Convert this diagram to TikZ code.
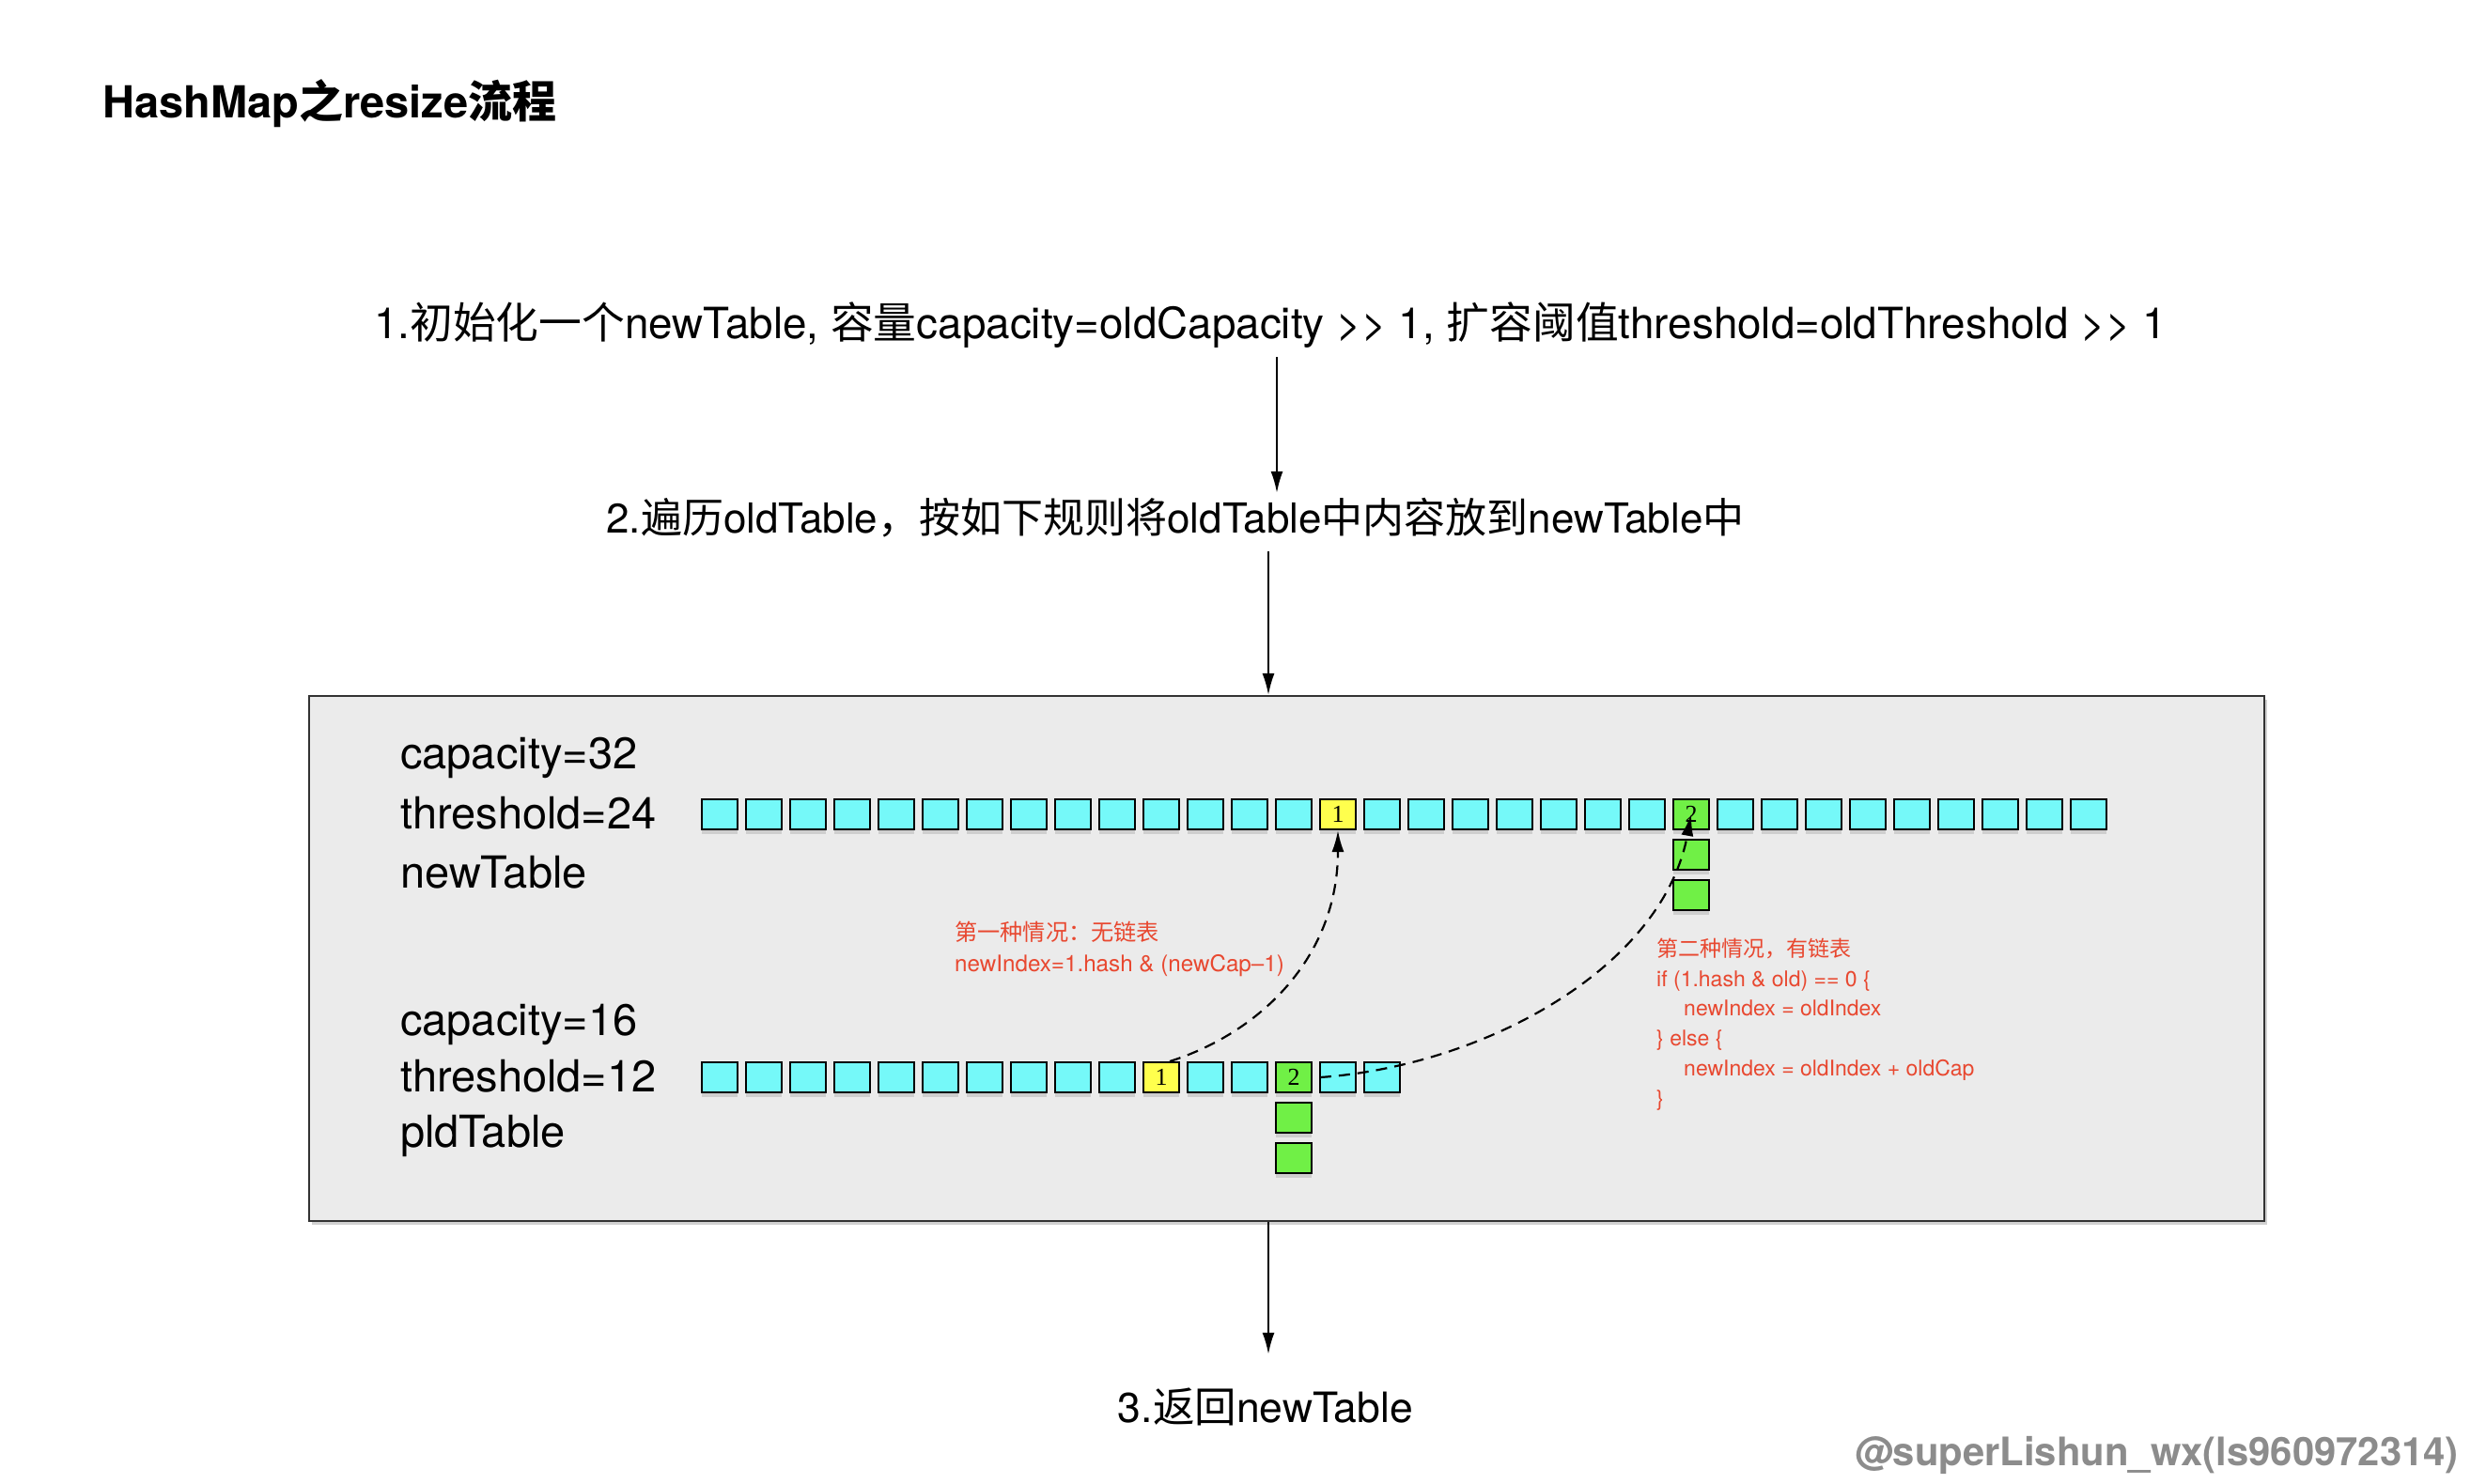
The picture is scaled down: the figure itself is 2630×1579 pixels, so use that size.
\documentclass[tikz,border=0pt]{standalone}
\usepackage{fontspec}
\setmainfont{TeX Gyre Heros}
\newfontfamily\cjk{Noto Sans CJK SC}
\newfontfamily\numf{Liberation Serif}
\usetikzlibrary{arrows.meta,shadows}
\definecolor{cellcyan}{RGB}{117,249,249}
\definecolor{cellyel}{RGB}{255,255,77}
\definecolor{cellgrn}{RGB}{112,240,70}
\definecolor{boxgray}{RGB}{235,235,235}
\definecolor{boxline}{RGB}{51,51,51}
\definecolor{redtxt}{RGB}{232,72,48}
\definecolor{wmgray}{RGB}{140,140,140}
\newcommand{\cj}[1]{{\cjk #1}}

\begin{document}
\begin{tikzpicture}[x=1pt,y=-1pt,
  steptext/.style={anchor=base, inner xsep=0pt, inner ysep=10pt, text height=32pt, text depth=10pt},
  lbl/.style={font=\fontsize{47}{55}\selectfont, anchor=base west, inner sep=0pt},
  note/.style={font=\fontsize{23}{28}\selectfont, text=redtxt, anchor=base west, inner sep=0pt},
  cell/.style={draw=black, line width=2pt, minimum width=38pt, minimum height=32pt, inner sep=0pt, fill=cellcyan,
    drop shadow={shadow xshift=0pt, shadow yshift=-5pt, opacity=0.12, fill=black},
    font=\numf\fontsize{26}{26}\selectfont},
  arr/.style={line width=2pt, -{Latex[length=23pt,width=13pt]}},
  darr/.style={line width=2.2pt, dash pattern=on 12pt off 8pt, -{Latex[length=23pt,width=13pt]}},
]
\fill[white] (0,0) rectangle (2630,1579);
\useasboundingbox (0,0) rectangle (2630,1579);

% title
\node[anchor=base west, inner sep=0pt, font=\bfseries\fontsize{47}{55}\selectfont] (title) at (109,125) {HashMap\cj{之}resize\cj{流程}};

% steps
\node[steptext, font=\fontsize{45.8}{52}\selectfont] (s1) at (1352,360) {1.\cj{初始化一个}newTable, \cj{容量}capacity=oldCapacity >{}> 1, \cj{扩容阈值}threshold=oldThreshold >{}> 1};
\node[steptext, font=\fontsize{44}{52}\selectfont] (s2) at (1251,567) {2.\cj{遍历}oldTable\cj{，按如下规则将}oldTable\cj{中内容放到}newTable\cj{中}};

% box
\node[draw=boxline, fill=boxgray, line width=2.5pt, minimum width=2081pt, minimum height=559pt, inner sep=0pt,
  drop shadow={shadow xshift=3pt, shadow yshift=-4pt, opacity=0.18, fill=black}] (box) at (1369.4,1020.7) {};

\node[steptext, font=\fontsize{44.5}{52}\selectfont, text height=62pt] (s3) at (1347,1514) {3.\cj{返回}newTable};

% labels
\node[lbl] (capN) at (426,818) {capacity=32};
\node[lbl] (thrN) at (426,882) {threshold=24};
\node[lbl] (tabN) at (426,945) {newTable};
\node[lbl] (capO) at (426,1102) {capacity=16};
\node[lbl] (thrO) at (426,1162) {threshold=12};
\node[lbl] (tabO) at (426,1221) {pldTable};

% new table
\foreach \i in {0,...,31}{
  \ifnum\i=14\relax \def\cellcol{cellyel}\def\celltxt{1}%
  \else\ifnum\i=22\relax \def\cellcol{cellgrn}\def\celltxt{2}%
  \else \def\cellcol{cellcyan}\def\celltxt{}\fi\fi
  \node[cell, fill=\cellcol] (n\i) at ({766+47*\i},867) {\celltxt};
}
\node[cell, fill=cellgrn] (n22a) at (1800,910) {};
\node[cell, fill=cellgrn] (n22b) at (1800,953) {};

% old table
\foreach \i in {0,...,15}{
  \ifnum\i=10\relax \def\cellcol{cellyel}\def\celltxt{1}%
  \else\ifnum\i=13\relax \def\cellcol{cellgrn}\def\celltxt{2}%
  \else \def\cellcol{cellcyan}\def\celltxt{}\fi\fi
  \node[cell, fill=\cellcol] (o\i) at ({766+47*\i},1147) {\celltxt};
}
\node[cell, fill=cellgrn] (o13a) at (1377,1190) {};
\node[cell, fill=cellgrn] (o13b) at (1377,1233) {};

% notes
\node[note, font=\fontsize{24.2}{28}\selectfont] (c1a) at (1016,1001) {\cj{第一种情况：无链表}};
\node[note, font=\fontsize{24.2}{28}\selectfont] (c1b) at (1016,1034) {newIndex=1.hash \& (newCap–1)};
\node[note] (c2a) at (1763,1018) {\cj{第二种情况，有链表}};
\node[note] (c2b) at (1763,1050) {if (1.hash \& old) == 0 \{};
\node[note] (c2c) at (1792,1081) {newIndex = oldIndex};
\node[note] (c2d) at (1763,1113) {\} else \{};
\node[note] (c2e) at (1792,1145) {newIndex = oldIndex + oldCap};
\node[note] (c2f) at (1763,1177) {\}};

% watermark
\node[anchor=base west, inner sep=0pt, font=\bfseries\fontsize{41.8}{48}\selectfont, text=wmgray] (wm) at (1974,1560) {@superLishun\_wx(ls960972314)};

% arrows
\coordinate (ax1) at (1359,0);
\coordinate (ax2) at (1350,0);
\draw[arr] (s1.south -| ax1) -- (s2.north -| ax1);
\draw[arr] (s2.south -| ax2) -- (box.north -| ax2);
\draw[arr] (box.south -| ax2) -- (s3.north -| ax2);

\draw[darr] ([xshift=9pt]o10.north) .. controls (1340,1100) and (1424,1020) .. (n14.south);
\draw[darr] ([xshift=8pt]o13.east) .. controls (1580,1135) and (1770,1030) .. (n22.center);
\end{tikzpicture}
\end{document}
